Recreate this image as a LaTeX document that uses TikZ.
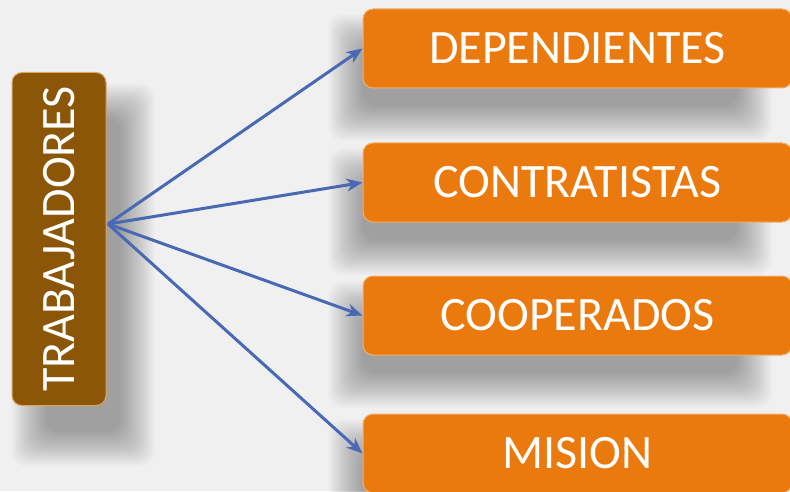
\documentclass[tikz,border=0pt]{standalone}
\usepackage{fontspec}
\setmainfont{Carlito}
\usetikzlibrary{arrows.meta,backgrounds}
\definecolor{bgcol}{HTML}{F0F0F0}
\definecolor{browncol}{HTML}{8B5608}
\definecolor{orangecol}{HTML}{EB7A0E}
\definecolor{arrowcol}{HTML}{4A69B5}
\begin{document}
\begin{tikzpicture}[x=1pt, y=1pt,
  catbox/.style = {rounded corners=10pt, fill=orangecol, draw=orangecol!60!white, line width=1pt,
    minimum width=429pt, minimum height=79pt, text=white, font=\fontsize{48}{52}\selectfont},
  mainbox/.style = {rounded corners=10pt, fill=browncol, draw=browncol!50!orange!60!white, line width=1pt,
    minimum width=94pt, minimum height=333pt, text=white, font=\fontsize{48}{52}\selectfont},
  link/.style = {draw=arrowcol, line width=3pt, -{Stealth[length=16pt, width=13pt]}}]
\useasboundingbox (0,0) rectangle (790,491);
\clip (0,0) rectangle (790,491);
% pixel rows counted from the top: y = 491 - row
\node[mainbox] (trab) at (59, 252) {\rotatebox{90}{TRABAJADORES}};
\node[catbox] (dep) at (577.5, 442.5) {DEPENDIENTES};
\node[catbox] (con) at (577.5, 308.5) {CONTRATISTAS};
\node[catbox] (coop) at (577.5, 175.5) {COOPERADOS};
\node[catbox] (mis) at (577.5, 37.5) {MISION};
\coordinate (src) at (108, 267);
\draw[link] (src) -- (dep.west);
\draw[link] (src) -- (con.west);
\draw[link] (src) -- (coop.west);
\draw[link] (src) -- (mis.west);
% soft shadows behind the boxes
\begin{scope}[on background layer]
\fill[bgcol] (0,0) rectangle (790,491);
\foreach \r in {24,22,...,-10} {
  \fill[black, opacity=0.02, rounded corners=14pt]
    ([shift={(24-\r, -36-\r)}]trab.south west) rectangle ([shift={(24+\r, -36+\r)}]trab.north east);
  \foreach \n in {dep,con,coop,mis}
    \fill[black, opacity=0.02, rounded corners=14pt]
      ([shift={(-10-\r, -28-\r)}]\n.south west) rectangle ([shift={(-45+\r, -30+\r)}]\n.north east);
}
\end{scope}
\end{tikzpicture}
\end{document}
